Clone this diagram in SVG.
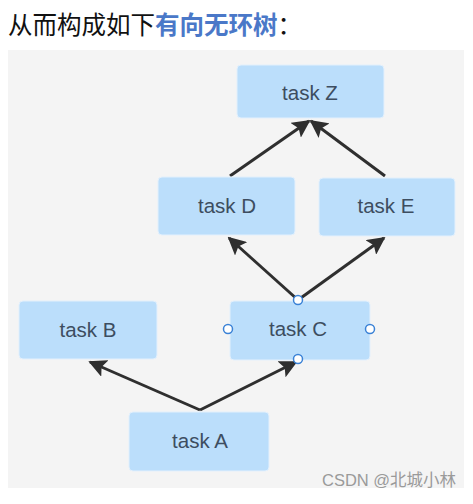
<svg xmlns="http://www.w3.org/2000/svg" width="473" height="504" viewBox="0 0 473 504">
<style>
.box{fill:#bbdefb;stroke:#e3f0fc;stroke-width:1}
.lbl{font-family:"Liberation Sans",Arial,sans-serif;font-size:20.5px;fill:#3d4d60;text-anchor:middle}
.edge{stroke:#2f2f2f;stroke-width:3;fill:none}
.h{fill:#fff;stroke:#3b82d6;stroke-width:1.5}
</style>
<defs>
<marker id="arr" viewBox="0 0 10 10" refX="9" refY="5" markerWidth="6" markerHeight="6" markerUnits="strokeWidth" orient="auto">
<path d="M0,0 L10,5 L0,10 L2,5 z" fill="#2f2f2f"/>
</marker>
</defs>
<rect x="0" y="0" width="473" height="504" fill="#fff"/>
<text x="8" y="34" font-family="'Noto Sans CJK SC','Noto Sans',sans-serif" font-size="24.5" fill="#111">从而构成如下<tspan fill="#4a78c8" font-weight="bold">有向无环树</tspan>：</text>
<rect x="8" y="50" width="456" height="438" fill="#f4f4f4"/>
<g id="connectors">
<line class="edge" x1="200" y1="410" x2="90" y2="362" marker-end="url(#arr)"/>
<line class="edge" x1="200" y1="410" x2="296" y2="362" marker-end="url(#arr)"/>
<line class="edge" x1="298" y1="300" x2="229" y2="238" marker-end="url(#arr)"/>
<line class="edge" x1="298" y1="300" x2="384" y2="238" marker-end="url(#arr)"/>
<line class="edge" x1="230" y1="176" x2="309" y2="121" marker-end="url(#arr)"/>
<line class="edge" x1="385" y1="176" x2="311" y2="121" marker-end="url(#arr)"/>
</g>
<g id="taskZ"><rect class="box" x="237" y="65" width="147" height="53" rx="4"/><text class="lbl" x="310" y="100">task Z</text></g>
<g id="taskD"><rect class="box" x="158" y="177" width="137" height="58" rx="4"/><text class="lbl" x="227" y="213">task D</text></g>
<g id="taskE"><rect class="box" x="319" y="178" width="136" height="58" rx="4"/><text class="lbl" x="386" y="213">task E</text></g>
<g id="taskB"><rect class="box" x="19" y="301" width="138" height="58" rx="4"/><text class="lbl" x="88" y="337">task B</text></g>
<g id="taskC"><rect class="box" x="230" y="301" width="140" height="59" rx="4"/><text class="lbl" x="298" y="336">task C</text>
<circle class="h" cx="298" cy="300" r="4.5"/><circle class="h" cx="228" cy="329" r="4.5"/><circle class="h" cx="370" cy="329" r="4.5"/><circle class="h" cx="298" cy="359" r="4.5"/></g>
<g id="taskA"><rect class="box" x="129" y="412" width="140" height="59" rx="4"/><text class="lbl" x="200" y="448">task A</text></g>
<text x="322" y="486" font-family="'Liberation Sans','Noto Sans CJK SC',sans-serif" font-size="16.5" fill="#9a9a9a">CSDN @北城小林</text>
</svg>
